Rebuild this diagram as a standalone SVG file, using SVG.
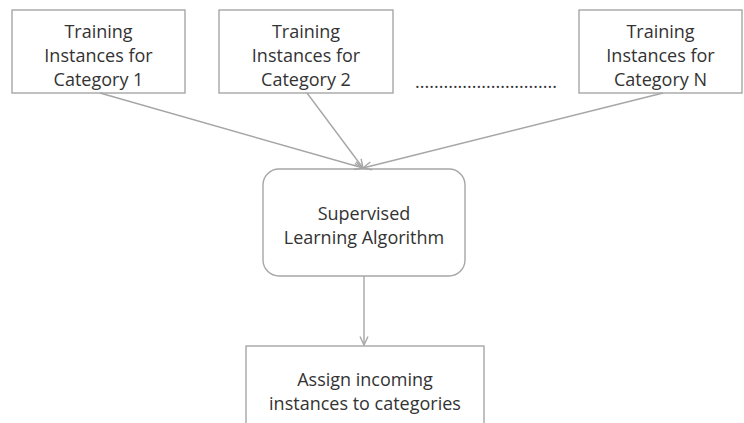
<svg xmlns="http://www.w3.org/2000/svg" width="744" height="423" viewBox="0 0 744 423">
  <style>
    .box { fill: #ffffff; stroke: #a6a6a6; stroke-width: 1.4; }
    .label { font-family: "Open Sans", "Noto Sans", sans-serif; font-size: 18px; fill: #333333; text-anchor: middle; }
    .edge { fill: none; stroke: #a6a6a6; stroke-width: 1.4; }
  </style>
  <defs>
    <marker id="arrow" viewBox="0 0 10 10" refX="9.5" refY="5" markerWidth="10" markerHeight="10" markerUnits="userSpaceOnUse" orient="auto">
      <path d="M1,1 L9.5,5 L1,9" fill="none" stroke="#a6a6a6" stroke-width="1.4"/>
    </marker>
  </defs>
  <rect width="744" height="423" fill="#ffffff"/>

  <g id="cat1">
    <rect class="box" x="12" y="10" width="173" height="83"/>
    <text class="label" x="98.5" y="38">Training</text>
    <text class="label" x="98.5" y="62">Instances for</text>
    <text class="label" x="98.5" y="86">Category 1</text>
  </g>

  <g id="cat2">
    <rect class="box" x="219" y="10" width="174" height="83"/>
    <text class="label" x="306" y="38">Training</text>
    <text class="label" x="306" y="62">Instances for</text>
    <text class="label" x="306" y="86">Category 2</text>
  </g>

  <g id="ellipsis">
    <text class="label" x="486" y="88">..............................</text>
  </g>

  <g id="catN">
    <rect class="box" x="579" y="10" width="163" height="83"/>
    <text class="label" x="660.5" y="38">Training</text>
    <text class="label" x="660.5" y="62">Instances for</text>
    <text class="label" x="660.5" y="86">Category N</text>
  </g>

  <g id="algorithm">
    <rect class="box" x="263" y="169" width="202" height="107" rx="16" ry="16"/>
    <text class="label" x="364" y="220">Supervised</text>
    <text class="label" x="364" y="244">Learning Algorithm</text>
  </g>

  <g id="assign">
    <rect class="box" x="246" y="346" width="238" height="90"/>
    <text class="label" x="365" y="386">Assign incoming</text>
    <text class="label" x="365" y="410">instances to categories</text>
  </g>

  <g id="connectors">
    <line class="edge" x1="100" y1="93" x2="363" y2="168" marker-end="url(#arrow)"/>
    <line class="edge" x1="307" y1="93" x2="363" y2="168" marker-end="url(#arrow)"/>
    <line class="edge" x1="663" y1="93" x2="363" y2="168" marker-end="url(#arrow)"/>
    <line class="edge" x1="364" y1="276" x2="364" y2="345" marker-end="url(#arrow)"/>
  </g>
</svg>
